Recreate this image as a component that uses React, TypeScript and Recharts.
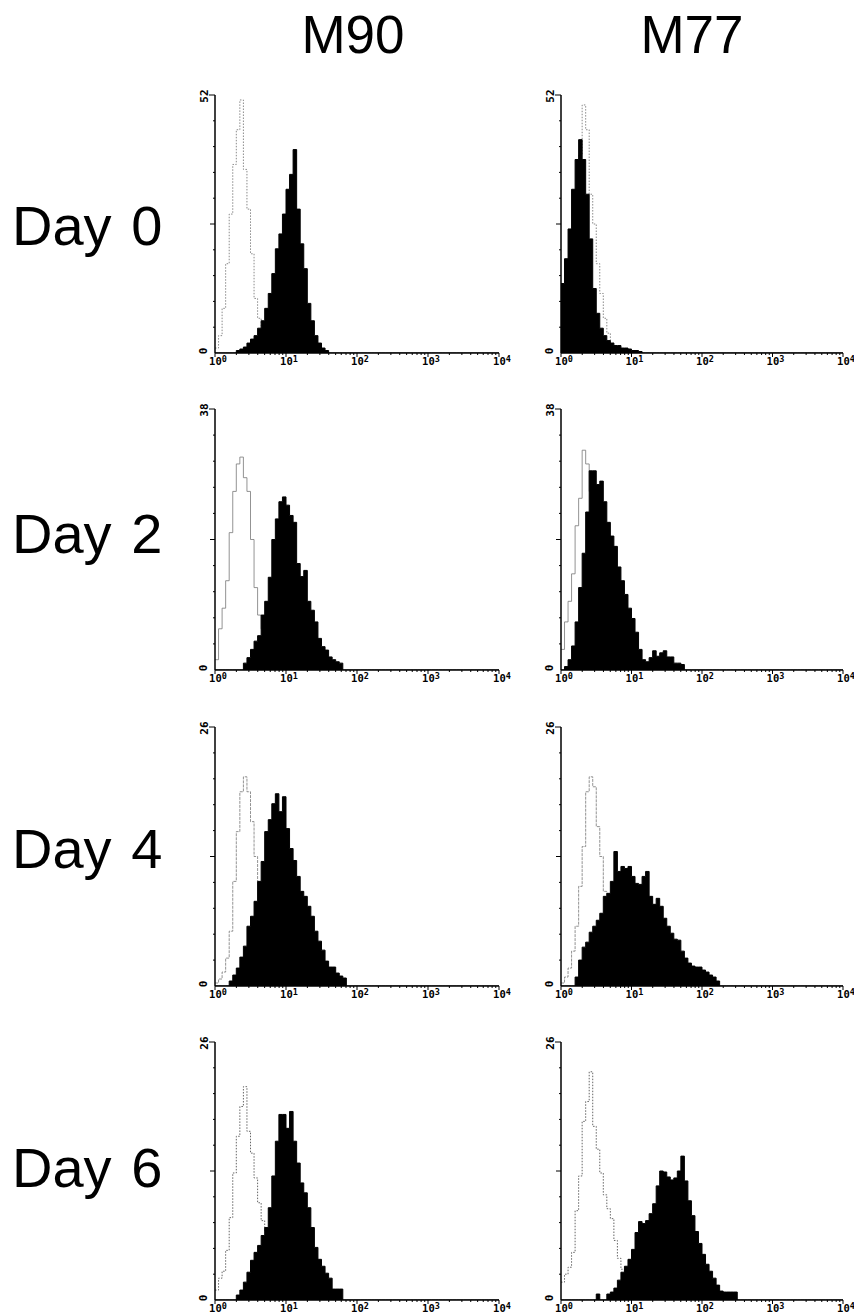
import React from "react";
import { ComposedChart, Area, XAxis, YAxis } from "recharts";

// ---- labels ----
const columns = ["M90", "M77"];
const days = ["Day 0", "Day 2", "Day 4", "Day 6"];
const yMax = [52, 38, 26, 26];
const xTickBase = "10";
const xTickExp = ["0", "1", "2", "3", "4"];

// histogram bins: left edges, in decades of log10 fluorescence (0.05 decade wide)
const binCount = 81;
const binWidth = 0.05;
const binStarts = Array.from({ length: binCount }, (_, i) => +(i * binWidth).toFixed(2));

// ---- series values (counts per bin, from bin 0) ----
// control (open, grey) and stained (filled, black)
const m90d0Ctrl = [1, 3.5, 9, 18, 28, 38, 45, 51, 37, 29, 20, 11, 7, 4, 2, 1, 0.5, 0];
const m90d0Samp = [0, 0, 0, 0, 0, 0, 0.5, 0.8, 1.2, 2, 2.8, 3.5, 5, 6.5, 9, 12, 16, 21, 24, 28, 33, 36, 41, 29, 22, 17, 10, 6.5, 3.5, 2, 1, 0.5];
const m77d0Ctrl = [2, 6, 12, 20, 30, 40, 50, 45, 32, 26, 18, 12, 7, 4, 2, 1, 0.5, 0];
const m77d0Samp = [14, 19, 25, 33, 39, 43, 39, 32, 23, 13, 8, 5, 3.5, 2.5, 2, 1.5, 1.5, 1, 1, 0.8, 0.5, 0.5, 0.3];

const m90d2Ctrl = [1.5, 6, 9, 13, 20, 26, 30, 31, 28, 26, 19, 12, 8, 6, 4, 2.5, 1.5, 0.8, 0.4, 0];
const m90d2Samp = [0, 0, 0, 0, 0, 0, 0, 0, 1, 1.8, 3, 4.2, 5, 8, 10, 13.5, 19, 22, 24.5, 25.2, 24, 22.5, 21.5, 15.5, 13.6, 14.5, 10, 8.7, 7, 4.6, 3.4, 2.9, 1.9, 1.5, 1.2, 1];
const m77d2Ctrl = [3, 7, 10, 14, 21, 25, 32, 30, 26, 20, 14, 9, 6, 3.5, 2, 1, 0.5, 0];
const m77d2Samp = [0, 0.5, 1.5, 3.5, 7, 12, 17, 23, 29, 29, 27, 27.5, 24.5, 21.5, 19.5, 18, 15, 13, 11, 9, 7.5, 5.5, 3, 1.5, 1.2, 1.8, 2.8, 2, 2.5, 2.8, 1.9, 1.9, 1, 1, 0.8];

const m90d4Ctrl = [0.3, 0.7, 1.4, 2.8, 5.5, 10.5, 15.5, 19.5, 21, 19.5, 16.5, 13, 10.5, 8, 6, 4, 2.5, 1.5, 0.8, 0.4, 0];
const m90d4Samp = [0, 0, 0, 0, 0.5, 1.1, 1.8, 2.9, 4, 6, 7, 8.5, 10.5, 12.5, 15.5, 16.7, 18.3, 19.3, 17.5, 19, 15.8, 13.8, 12.6, 11, 9.5, 9, 8, 7, 5.5, 4.5, 3.6, 2.5, 1.9, 1.9, 1.3, 1, 0.8];
const m77d4Ctrl = [0.3, 0.9, 1.8, 3.5, 6, 10, 14, 19.5, 21, 20, 16, 13, 9.5, 8, 6, 4, 2.5, 1.5, 0.8, 0.4, 0];
const m77d4Samp = [0, 0, 0, 0, 0.9, 2.6, 3.9, 4.4, 5.4, 6, 6.6, 7.3, 9, 9.3, 10.5, 13.5, 11.5, 12, 11.8, 12, 11, 10.3, 10.2, 11, 11.5, 9, 8.2, 8.8, 8, 6.8, 6, 5.3, 4.7, 4.6, 3.5, 2.8, 2.3, 2, 1.9, 1.9, 1.6, 1.4, 1.1, 0.9, 0.5];

const m90d6Ctrl = [1, 2.2, 2.9, 5, 8.3, 12.8, 16.5, 19.5, 21.5, 17, 14.8, 12.3, 9.8, 8, 7, 5, 3, 1.8, 1, 0.5, 0];
const m90d6Samp = [0, 0, 0, 0, 0, 0, 0.5, 1, 1.8, 2.8, 4, 4.8, 5.5, 6.5, 7.3, 9.3, 12.5, 16, 18.7, 18.7, 17.3, 19, 16, 13.8, 11.8, 10.8, 9.3, 7.3, 5.3, 4.1, 3.4, 2.7, 2.2, 1.1, 1.1, 1.1];
const m77d6Ctrl = [1.8, 2.6, 3.3, 4.8, 9, 12.5, 18, 20, 23, 17.5, 15.2, 12.8, 10.6, 9.2, 8.2, 6, 4.2, 3.1, 2, 1, 0.5, 0];
const m77d6Samp = [0, 0, 0, 0, 0, 0, 0, 0, 0, 0, 0.6, 0, 0, 0.6, 0.8, 1.2, 2, 2.8, 3.4, 4.1, 5.1, 6.8, 7.9, 7.7, 8, 8.7, 9.7, 11.5, 13, 12.9, 12.4, 12.1, 12.3, 13, 14.5, 12, 10, 8.5, 6.9, 5.7, 4.6, 3.6, 2.9, 2.2, 1.5, 0.9, 0.8, 0.8, 0.8, 0.8];

const panelSeries = [
  [[m90d0Ctrl, m90d0Samp], [m77d0Ctrl, m77d0Samp]],
  [[m90d2Ctrl, m90d2Samp], [m77d2Ctrl, m77d2Samp]],
  [[m90d4Ctrl, m90d4Samp], [m77d4Ctrl, m77d4Samp]],
  [[m90d6Ctrl, m90d6Samp], [m77d6Ctrl, m77d6Samp]],
];

// ---- layout ----
const colLeft = [215, 561];
const colWidth = [284, 282];
const rowTop = [95, 409, 727, 1042];
const rowHeight = [258, 261, 259, 258];
const rowLabelBaseline = [245, 553, 868, 1187];
const colTitleX = [353, 692];
const ctrlStyle = [
  { stroke: "#8a8a8a", dash: "1.5 1.5", w: 1 },
  { stroke: "#777", dash: undefined, w: 0.8 },
  { stroke: "#777", dash: "3 1", w: 0.8 },
  { stroke: "#666", dash: "1.5 1.5", w: 1 },
];

const M_LEFT = 30;
const M_TOP = 10;
const M_RIGHT = 20;
const X_H = 25;

const decadeTicks: number[] = [];
for (let d = 0; d < 4; d++) {
  for (let k = 1; k < 10; k++) decadeTicks.push(d + Math.log10(k));
}
decadeTicks.push(4);

const mono = "'DejaVu Sans Mono', 'Liberation Mono', monospace";

const XTick = (props: any) => {
  const { x, y, payload } = props;
  const v = payload.value as number;
  const major = Math.abs(v - Math.round(v)) < 1e-6;
  return (
    <g>
      <line x1={x} x2={x} y1={y} y2={y + (major ? 4 : 2)} stroke="#000" strokeWidth={1} />
      {major && (
        <text x={x + 3} y={y + 12} textAnchor="middle" fontFamily={mono} fontSize={10.5} fontWeight="bold" fill="#000">
          {xTickBase}
          <tspan fontSize={8.5} dy={-3}>{xTickExp[Math.round(v)]}</tspan>
        </text>
      )}
    </g>
  );
};

const makeYTick = (max: number) => (props: any) => {
  const { x, y, payload } = props;
  const v = payload.value as number;
  if (v === 0) {
    return (
      <text transform={`translate(${x - 8},${y - 2}) rotate(-90)`} textAnchor="middle" fontFamily={mono} fontSize={11} fontWeight="bold" fill="#000">
        0
      </text>
    );
  }
  if (Math.abs(v - max) < 1e-6) {
    return (
      <g>
        <line x1={x - 6} x2={x} y1={y} y2={y} stroke="#000" strokeWidth={1} />
        <text transform={`translate(${x - 7},${y + 1}) rotate(-90)`} textAnchor="middle" fontFamily={mono} fontSize={11} fontWeight="bold" fill="#000">
          {String(max)}
        </text>
      </g>
    );
  }
  const mid = Math.abs(v - max / 2) < 1e-6;
  return <line x1={x - (mid ? 5 : 2)} x2={x} y1={y} y2={y} stroke="#000" strokeWidth={1} />;
};

function Panel({ row, col }: { row: number; col: number }) {
  const [ctrl, samp] = panelSeries[row][col];
  const data = binStarts.map((x, i) => ({
    x,
    c: i < ctrl.length ? ctrl[i] : null,
    s: i < samp.length ? samp[i] : 0,
  }));
  const max = yMax[row];
  const yTicks = Array.from({ length: 11 }, (_, i) => +((max * i) / 10).toFixed(3));
  const W = colWidth[col];
  const H = rowHeight[row];
  const st = ctrlStyle[row];
  return (
    <div style={{ position: "absolute", left: colLeft[col] - M_LEFT, top: rowTop[row] - M_TOP }}>
      <ComposedChart width={M_LEFT + W + M_RIGHT} height={M_TOP + H + X_H} data={data} margin={{ top: M_TOP, right: M_RIGHT, left: 0, bottom: 0 }}>
        <Area
          type="stepAfter"
          dataKey="c"
          stroke={st.stroke}
          strokeWidth={st.w}
          strokeDasharray={st.dash}
          fill="none"
          fillOpacity={0}
          dot={false}
          activeDot={false}
          isAnimationActive={false}
        />
        <Area
          type="stepAfter"
          dataKey="s"
          stroke="#000"
          strokeWidth={1}
          fill="#000"
          fillOpacity={1}
          dot={false}
          activeDot={false}
          isAnimationActive={false}
        />
        <XAxis
          dataKey="x"
          type="number"
          domain={[0, 4]}
          ticks={decadeTicks}
          interval={0}
          tick={<XTick />}
          tickLine={false}
          tickSize={0}
          tickMargin={0}
          height={X_H}
          axisLine={{ stroke: "#000", strokeWidth: 1.5 }}
          allowDataOverflow
        />
        <YAxis
          type="number"
          domain={[0, max]}
          ticks={yTicks}
          interval={0}
          tick={makeYTick(max)}
          tickLine={false}
          tickSize={0}
          tickMargin={0}
          width={M_LEFT}
          axisLine={{ stroke: "#000", strokeWidth: 1.5 }}
          allowDataOverflow
        />
      </ComposedChart>
    </div>
  );
}

export default function App() {
  return (
    <div style={{ position: "absolute", left: 0, top: 0, width: 854, height: 1316, background: "#fff", overflow: "hidden" }}>
      <svg width={854} height={1316} style={{ position: "absolute", left: 0, top: 0 }}>
        {columns.map((c, i) => (
          <text key={c} x={colTitleX[i]} y={53} textAnchor="middle" fontFamily="'Liberation Sans', Arial, sans-serif" fontSize={53} fill="#000">
            {c}
          </text>
        ))}
        {days.map((d, i) => (
          <text key={d} x={12} y={rowLabelBaseline[i]} fontFamily="'Liberation Sans', Arial, sans-serif" fontSize={56} wordSpacing={4} fill="#000">
            {d}
          </text>
        ))}
      </svg>
      {days.map((_, r) =>
        columns.map((_, c) => <Panel key={`${r}-${c}`} row={r} col={c} />)
      )}
    </div>
  );
}
